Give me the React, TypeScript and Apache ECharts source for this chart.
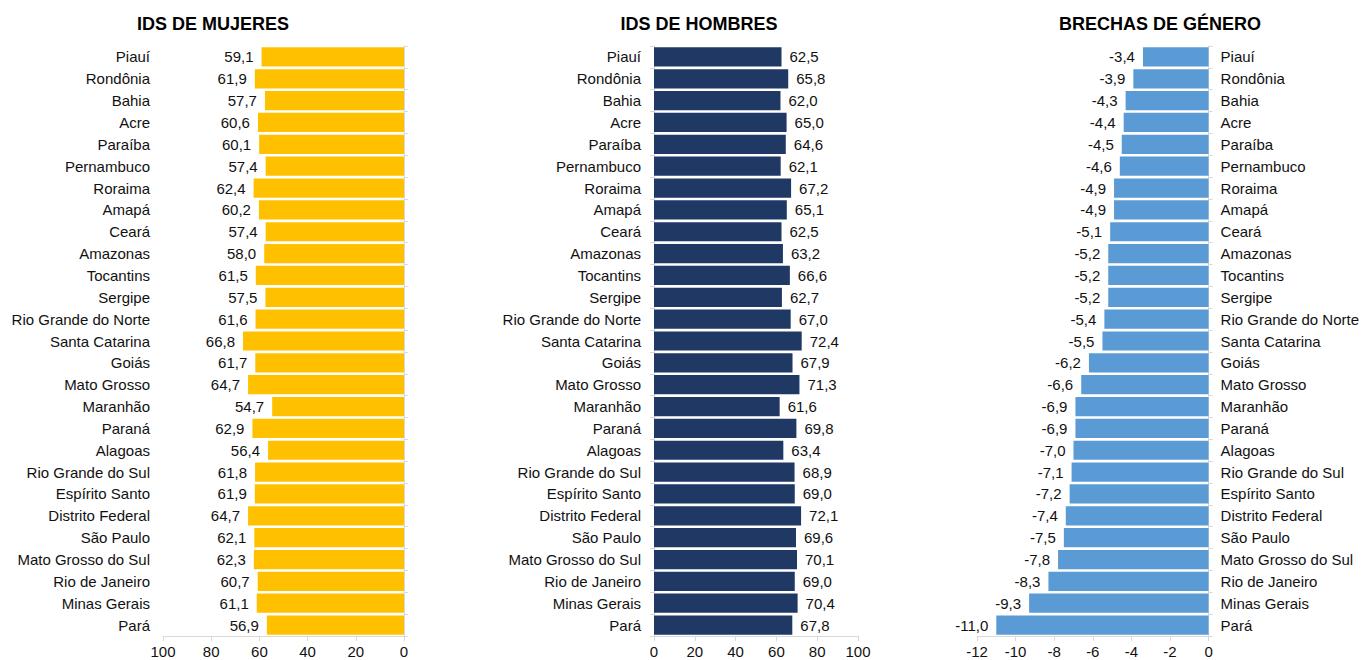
import React, { useEffect, useRef } from "react";
import * as echarts from "echarts";

const categories = [
  "Piauí", "Rondônia", "Bahia", "Acre", "Paraíba", "Pernambuco", "Roraima", "Amapá",
  "Ceará", "Amazonas", "Tocantins", "Sergipe", "Rio Grande do Norte", "Santa Catarina",
  "Goiás", "Mato Grosso", "Maranhão", "Paraná", "Alagoas", "Rio Grande do Sul",
  "Espírito Santo", "Distrito Federal", "São Paulo", "Mato Grosso do Sul",
  "Rio de Janeiro", "Minas Gerais", "Pará",
];

const mujeres = [
  59.1, 61.9, 57.7, 60.6, 60.1, 57.4, 62.4, 60.2, 57.4, 58.0, 61.5, 57.5, 61.6, 66.8,
  61.7, 64.7, 54.7, 62.9, 56.4, 61.8, 61.9, 64.7, 62.1, 62.3, 60.7, 61.1, 56.9,
];

const hombres = [
  62.5, 65.8, 62.0, 65.0, 64.6, 62.1, 67.2, 65.1, 62.5, 63.2, 66.6, 62.7, 67.0, 72.4,
  67.9, 71.3, 61.6, 69.8, 63.4, 68.9, 69.0, 72.1, 69.6, 70.1, 69.0, 70.4, 67.8,
];

const brechas = [
  -3.4, -3.9, -4.3, -4.4, -4.5, -4.6, -4.9, -4.9, -5.1, -5.2, -5.2, -5.2, -5.4, -5.5,
  -6.2, -6.6, -6.9, -6.9, -7.0, -7.1, -7.2, -7.4, -7.5, -7.8, -8.3, -9.3, -11.0,
];

const titles = ["IDS DE MUJERES", "IDS DE HOMBRES", "BRECHAS DE GÉNERO"];

const FONT = "Liberation Sans, Arial, sans-serif";
const fmt = (v: number) => v.toFixed(1).replace(".", ",");
const AXIS_COLOR = "#d9d9d9";
const TEXT_COLOR = "#111111";
const FS = 15;

export default function App() {
  const ref = useRef<HTMLDivElement>(null);

  useEffect(() => {
    document.body.style.margin = "0";
    if (!ref.current) return;
    const chart = echarts.init(ref.current, null, { renderer: "svg" });

    const top = 46;
    const height = 590;

    const catAxisBase = {
      type: "category" as const,
      data: categories,
      inverse: true,
      axisLine: { onZero: false, lineStyle: { color: AXIS_COLOR } },
      axisTick: { show: true, length: 4, lineStyle: { color: AXIS_COLOR } },
      splitLine: { show: false },
    };

    const valueAxisBase = {
      type: "value" as const,
      splitLine: { show: false },
      axisLine: { show: true, onZero: false, lineStyle: { color: AXIS_COLOR } },
      axisTick: { show: true, length: 5, lineStyle: { color: AXIS_COLOR } },
      axisLabel: { fontSize: FS, color: TEXT_COLOR, fontFamily: FONT, margin: 8 },
    };

    const labelBase = {
      show: true,
      fontSize: FS,
      color: TEXT_COLOR,
      fontFamily: FONT,
      distance: 8,
      formatter: (p: any) => fmt(p.value),
    };

    const option: any = {
      animation: false,
      backgroundColor: "#ffffff",
      textStyle: { fontFamily: FONT },
      graphic: [
        { x: 213, y: 24, t: titles[0] },
        { x: 699, y: 24, t: titles[1] },
        { x: 1160, y: 24, t: titles[2] },
      ].map((g) => ({
        type: "text",
        x: g.x,
        y: g.y,
        style: {
          text: g.t,
          textAlign: "center",
          textVerticalAlign: "middle",
          fontSize: 18,
          fontWeight: "bold",
          fontFamily: FONT,
          fill: "#000000",
        },
      })),
      grid: [
        { left: 163, width: 241, top, height },
        { left: 654, width: 204, top, height },
        { left: 977, width: 233, top, height },
      ],
      xAxis: [
        { ...valueAxisBase, gridIndex: 0, min: 0, max: 100, interval: 20, inverse: true },
        { ...valueAxisBase, gridIndex: 1, min: 0, max: 100, interval: 20 },
        { ...valueAxisBase, gridIndex: 2, min: -12, max: 0, interval: 2 },
      ],
      yAxis: [
        { ...catAxisBase, gridIndex: 0, position: "right", axisLabel: { show: false } },
        {
          ...catAxisBase,
          gridIndex: 0,
          position: "left",
          axisLine: { show: false },
          axisTick: { show: false },
          axisLabel: { fontSize: FS, color: TEXT_COLOR, fontFamily: FONT, margin: 13 },
        },
        {
          ...catAxisBase,
          gridIndex: 1,
          position: "left",
          axisLabel: { fontSize: FS, color: TEXT_COLOR, fontFamily: FONT, margin: 13 },
        },
        {
          ...catAxisBase,
          gridIndex: 2,
          position: "right",
          axisLabel: { fontSize: FS, color: TEXT_COLOR, fontFamily: FONT, margin: 12 },
        },
      ],
      series: [
        {
          type: "bar",
          xAxisIndex: 0,
          yAxisIndex: 0,
          data: mujeres,
          barCategoryGap: "12%",
          itemStyle: { color: "#FFC000" },
          label: { ...labelBase, position: "left" },
        },
        {
          type: "bar",
          xAxisIndex: 1,
          yAxisIndex: 2,
          data: hombres,
          barCategoryGap: "12%",
          itemStyle: { color: "#203864" },
          label: { ...labelBase, position: "right" },
        },
        {
          type: "bar",
          xAxisIndex: 2,
          yAxisIndex: 3,
          data: brechas,
          barCategoryGap: "12%",
          itemStyle: { color: "#5B9BD5" },
          label: { ...labelBase, position: "left" },
        },
      ],
    };

    chart.setOption(option);
    return () => chart.dispose();
  }, []);

  return <div ref={ref} style={{ width: 1362, height: 660 }} />;
}
